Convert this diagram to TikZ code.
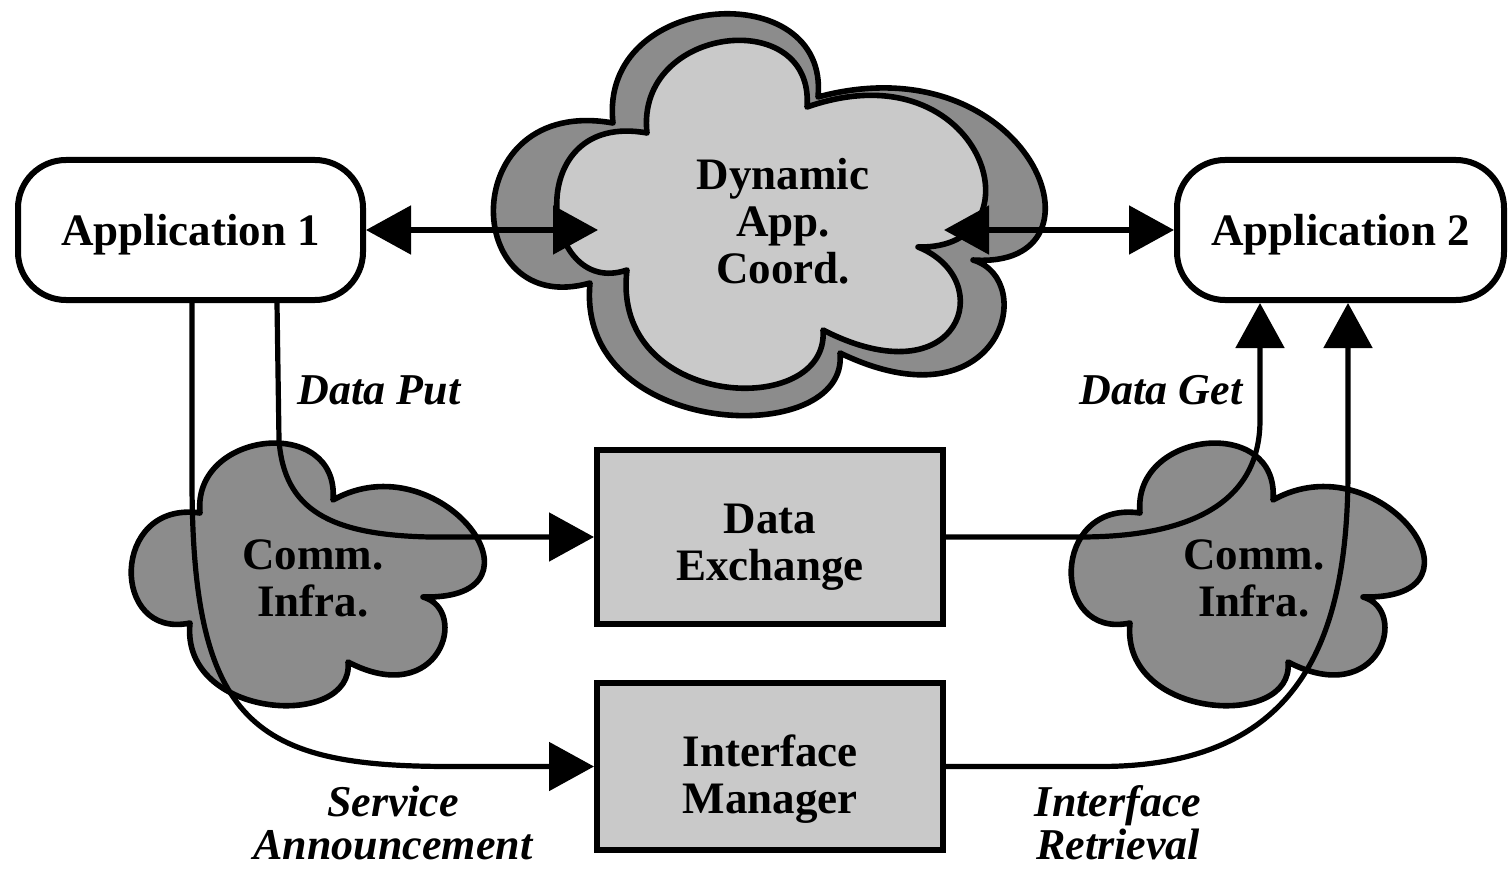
\documentclass[tikz,border=0pt]{standalone}
\usepackage{fontspec}
\setmainfont{Liberation Serif}
\usetikzlibrary{arrows.meta,calc}
\definecolor{dkgray}{gray}{0.55}
\definecolor{ltgray}{gray}{0.79}
\begin{document}
\begin{tikzpicture}[x=0.5pt,y=-0.5pt,
  every node/.style={font=\fontsize{22.5}{23.5}\selectfont\bfseries, inner sep=0pt, align=center},
  appbox/.style={draw, line width=3pt, rounded corners=24pt, fill=white, minimum width=172.5pt, minimum height=70pt, text depth=0pt},
  procbox/.style={draw, line width=3pt, fill=ltgray, minimum width=173pt},
  lbl/.style={font=\fontsize{22}{21.5}\selectfont\bfseries\itshape},
  cloudline/.style={line width=2.8pt, line join=round},
  conn/.style={line width=2.6pt},
  >={Triangle[length=22.5pt,width=24pt]}]
\useasboundingbox (0,0) rectangle (1511,872);
\fill[white] (0,0) rectangle (1511,872);
% dynamic coordination cloud (shadow + front)
\filldraw[cloudline, fill=dkgray] (613,123) .. controls (598,-10) and (830,-25) .. (818,97)
  .. controls (1030,40) and (1120,270) .. (973,260)
  .. controls (1040,280) and (1000,430) .. (840,353)
  .. controls (850,450) and (575,440) .. (590,283)
  .. controls (460,320) and (455,95) .. (613,123) -- cycle;
\filldraw[cloudline, fill=ltgray] (647,133) .. controls (635,25) and (815,5) .. (807,107)
  .. controls (985,45) and (1045,250) .. (918,247)
  .. controls (1000,280) and (960,400) .. (823,330)
  .. controls (830,420) and (610,410) .. (627,270)
  .. controls (540,300) and (520,110) .. (647,133) -- cycle;
% communication infrastructure clouds
\foreach \dx in {0,940}{
  \begin{scope}[shift={(\dx,0)}]
  \filldraw[cloudline, fill=dkgray] (200,513) .. controls (192,430) and (340,415) .. (333,500)
    .. controls (440,440) and (560,600) .. (423,597)
    .. controls (470,610) and (440,710) .. (348,662)
    .. controls (355,730) and (180,720) .. (190,623)
    .. controls (110,640) and (110,500) .. (200,513) -- cycle;
  \end{scope}}
% boxes
\node[appbox] (app1) at (190.5,230) {Application 1};
\node[appbox, minimum width=163.5pt] (app2) at (1340.5,230) {Application 2};
\node[procbox, minimum height=87pt] (de) at (770,537) {\rule{0pt}{25pt}Data\\Exchange};
\node[procbox, minimum height=83.5pt] (im) at (770,766.5) {\rule{0pt}{28.5pt}Interface\\Manager};
% connector end points inside the coordination cloud
\coordinate (dynL) at (598,230);
\coordinate (dynR) at (944,230);
% connectors
\draw[conn,<->] (app1.east) -- (dynL);
\draw[conn,<->] (dynR) -- (app2.west);
\draw[conn,->] ($(app1.south)+(86.5,0)$) -- (279,440) .. controls (284,510) and (330,535) .. (430,537) -- (de.west);
\draw[conn,->] ($(app1.south)+(1.5,0)$) -- (192,480) .. controls (192,725) and (255,766.5) .. (450,766.5) -- (im.west);
\draw[conn,->] (de.east) -- (1080,537) .. controls (1195,537) and (1260,500) .. (1260,420) -- ($(app2.south)+(-80.5,0)$);
\draw[conn,->] (im.east) -- (1100,766.5) .. controls (1300,766.5) and (1348,640) .. (1348,470) -- ($(app2.south)+(7.5,0)$);
% cloud texts and labels
\node (dyn) at (783,221) {Dynamic\\App.\\Coord.};
\node (ci1) at (313,578) {Comm.\\Infra.};
\node (ci2) at (1254,578) {Comm.\\Infra.};
\node[lbl] (dput) at (379,390) {Data Put};
\node[lbl] (dget) at (1161,390) {Data Get};
\node[lbl] (sann) at (393,823) {Service\\Announcement};
\node[lbl] (iret) at (1118,823) {Interface\\Retrieval};
\end{tikzpicture}
\end{document}
